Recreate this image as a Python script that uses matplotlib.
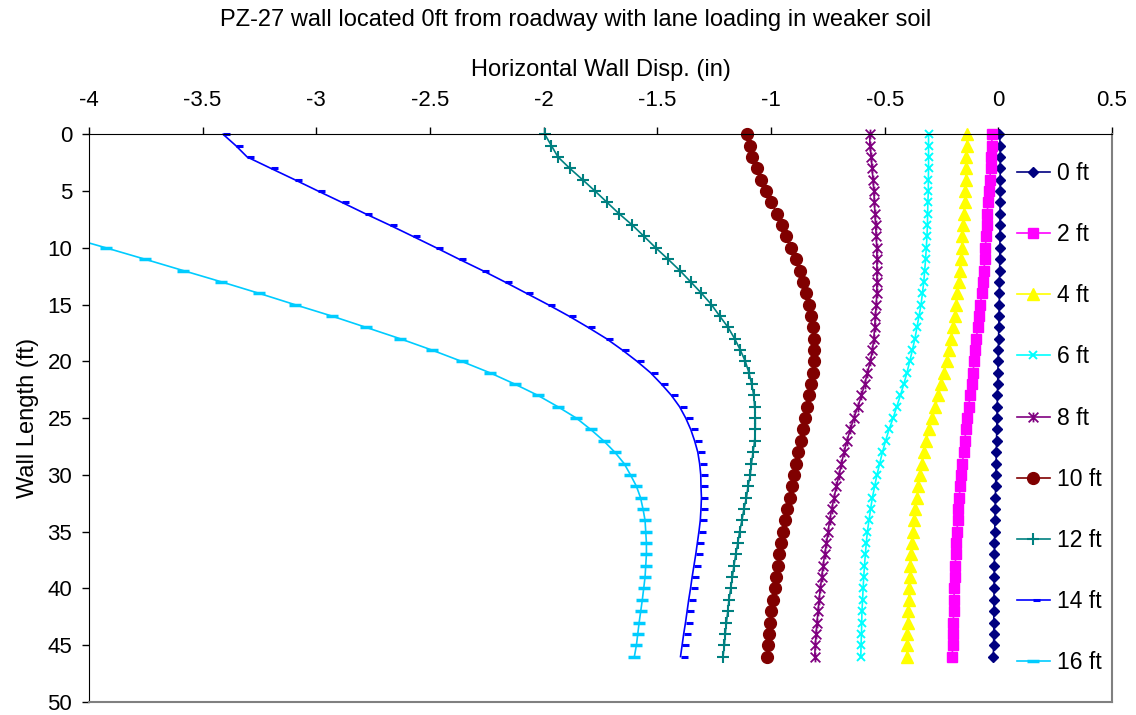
import numpy as np
import matplotlib
matplotlib.use("Agg")
import matplotlib.pyplot as plt
from matplotlib.path import Path

plt.rcParams['font.family'] = ['Liberation Sans', 'DejaVu Sans']

depth = list(range(0, 47))

disp_0 = [0.005, 0.008, 0.008, 0.008, 0.008, 0.008, 0.008, 0.007, 0.007, 0.007,
          0.007, 0.006, 0.006, 0.005, 0.005, 0.004, 0.003, 0.002, 0.001, 0.000,
          -0.001, -0.002, -0.003, -0.004, -0.005, -0.006, -0.007, -0.008, -0.009, -0.010,
          -0.011, -0.012, -0.013, -0.014, -0.015, -0.016, -0.017, -0.017, -0.018, -0.018,
          -0.019, -0.019, -0.020, -0.020, -0.020, -0.021, -0.022]
disp_2 = [-0.028, -0.029, -0.031, -0.034, -0.038, -0.041, -0.046, -0.049, -0.051, -0.054,
          -0.057, -0.060, -0.063, -0.067, -0.073, -0.079, -0.085, -0.091, -0.097, -0.102,
          -0.106, -0.112, -0.117, -0.124, -0.131, -0.138, -0.144, -0.147, -0.153, -0.158,
          -0.163, -0.167, -0.173, -0.176, -0.179, -0.182, -0.185, -0.188, -0.189, -0.192,
          -0.194, -0.195, -0.197, -0.198, -0.200, -0.201, -0.203]
disp_4 = [-0.138, -0.139, -0.141, -0.142, -0.144, -0.147, -0.148, -0.151, -0.154, -0.158,
          -0.161, -0.166, -0.170, -0.175, -0.180, -0.186, -0.192, -0.200, -0.208, -0.217,
          -0.227, -0.239, -0.251, -0.264, -0.277, -0.290, -0.305, -0.317, -0.327, -0.336,
          -0.343, -0.352, -0.358, -0.365, -0.371, -0.375, -0.380, -0.384, -0.387, -0.390,
          -0.393, -0.394, -0.397, -0.399, -0.400, -0.402, -0.403]
disp_6 = [-0.307, -0.307, -0.307, -0.307, -0.308, -0.308, -0.310, -0.311, -0.312, -0.314,
          -0.317, -0.320, -0.324, -0.328, -0.334, -0.340, -0.349, -0.358, -0.367, -0.378,
          -0.390, -0.402, -0.416, -0.431, -0.447, -0.463, -0.481, -0.496, -0.510, -0.522,
          -0.534, -0.544, -0.554, -0.562, -0.569, -0.576, -0.581, -0.585, -0.589, -0.592,
          -0.595, -0.597, -0.600, -0.601, -0.602, -0.604, -0.605]
disp_8 = [-0.566, -0.565, -0.559, -0.556, -0.551, -0.548, -0.545, -0.543, -0.540, -0.537,
          -0.535, -0.534, -0.534, -0.534, -0.535, -0.537, -0.541, -0.544, -0.548, -0.554,
          -0.563, -0.576, -0.588, -0.602, -0.618, -0.636, -0.651, -0.666, -0.679, -0.690,
          -0.701, -0.712, -0.723, -0.733, -0.742, -0.749, -0.756, -0.764, -0.771, -0.777,
          -0.783, -0.789, -0.793, -0.798, -0.802, -0.805, -0.808]
disp_10 = [-1.106, -1.094, -1.084, -1.062, -1.042, -1.020, -0.998, -0.974, -0.953, -0.932,
           -0.913, -0.891, -0.874, -0.859, -0.844, -0.833, -0.822, -0.815, -0.812, -0.811,
           -0.812, -0.815, -0.822, -0.833, -0.840, -0.849, -0.859, -0.869, -0.880, -0.888,
           -0.899, -0.909, -0.918, -0.928, -0.937, -0.947, -0.954, -0.965, -0.969, -0.976,
           -0.984, -0.991, -0.998, -1.003, -1.009, -1.012, -1.016]
disp_12 = [-1.995, -1.966, -1.937, -1.885, -1.829, -1.774, -1.721, -1.668, -1.610, -1.558,
           -1.507, -1.453, -1.401, -1.353, -1.306, -1.262, -1.226, -1.189, -1.160, -1.135,
           -1.113, -1.097, -1.085, -1.076, -1.072, -1.069, -1.069, -1.072, -1.079, -1.086,
           -1.091, -1.101, -1.108, -1.119, -1.128, -1.138, -1.146, -1.155, -1.163, -1.170,
           -1.177, -1.185, -1.190, -1.196, -1.201, -1.205, -1.211]
disp_14 = [-3.410, -3.354, -3.304, -3.200, -3.095, -2.992, -2.887, -2.784, -2.677, -2.574,
           -2.472, -2.372, -2.269, -2.171, -2.076, -1.981, -1.890, -1.805, -1.724, -1.654,
           -1.589, -1.530, -1.482, -1.438, -1.402, -1.375, -1.353, -1.336, -1.322, -1.314,
           -1.309, -1.308, -1.306, -1.308, -1.311, -1.317, -1.324, -1.331, -1.339, -1.347,
           -1.354, -1.362, -1.369, -1.376, -1.384, -1.391, -1.398]
disp_16 = [np.nan, np.nan, np.nan, np.nan, np.nan, np.nan, np.nan, np.nan, np.nan, -4.100,
           -3.925, -3.754, -3.586, -3.417, -3.253, -3.095, -2.933, -2.782, -2.632, -2.492,
           -2.361, -2.237, -2.127, -2.025, -1.937, -1.856, -1.793, -1.736, -1.687, -1.646,
           -1.618, -1.592, -1.574, -1.563, -1.554, -1.551, -1.548, -1.548, -1.551, -1.554,
           -1.560, -1.566, -1.573, -1.580, -1.586, -1.592, -1.601]

labels = ['0 ft', '2 ft', '4 ft', '6 ft', '8 ft', '10 ft', '12 ft', '14 ft', '16 ft']
series = [disp_0, disp_2, disp_4, disp_6, disp_8, disp_10, disp_12, disp_14, disp_16]

# excel style markers
star = Path([(-1, -1), (1, 1), (-1, 1), (1, -1), (0, -1), (0, 1)],
            [Path.MOVETO, Path.LINETO, Path.MOVETO, Path.LINETO, Path.MOVETO, Path.LINETO])
short_bar = Path([(0, 0), (1, 0)], [Path.MOVETO, Path.LINETO])

styles = [
    dict(color='#000080', marker='D', ms=5.5),
    dict(color='#FF00FF', marker='s', ms=7),
    dict(color='#FFFF00', marker='^', ms=8),
    dict(color='#00FFFF', marker='x', ms=6, mew=1.4),
    dict(color='#800080', marker=star, ms=7, mew=1.3),
    dict(color='#800000', marker='o', ms=8.5),
    dict(color='#008080', marker='+', ms=8, mew=1.5),
    dict(color='#0000FF', marker=short_bar, ms=10, mew=2.2),
    dict(color='#00CCFF', marker='_', ms=8, mew=2.5),
]

fig = plt.figure(figsize=(11.36, 7.15), dpi=100)
ax = fig.add_axes([0.0783, 0.0182, 0.9006, 0.7940])

for vals, lab, st in zip(series, labels, styles):
    clip = lab == '16 ft'
    ax.plot(vals, depth, label=lab, lw=1.2, clip_on=clip, **st)

ax.set_xlim(-4, 0.5)
ax.set_ylim(50, 0)
ax.set_xticks(np.arange(-4, 0.51, 0.5))
ax.set_xticklabels(['-4', '-3.5', '-3', '-2.5', '-2', '-1.5', '-1', '-0.5', '0', '0.5'])
ax.set_yticks(range(0, 51, 5))
ax.xaxis.tick_top()
ax.xaxis.set_label_position('top')
ax.tick_params(axis='both', direction='out', length=5, width=1, labelsize=16, pad=7)
ax.tick_params(axis='x', pad=12)

ax.spines['top'].set_color('black')
ax.spines['left'].set_color('black')
ax.spines['right'].set_color('#808080')
ax.spines['bottom'].set_color('#808080')
ax.spines['right'].set_linewidth(1.5)
ax.spines['bottom'].set_linewidth(1.5)

ax.set_xlabel('Horizontal Wall Disp. (in)', fontsize=17, labelpad=10)
ax.set_ylabel('Wall Length (ft)', fontsize=17, labelpad=6)
fig.text(0.507, 0.972, 'PZ-27 wall located 0ft from roadway with lane loading in weaker soil',
         ha='center', va='center', fontsize=17)

ax.legend(loc='center left', bbox_to_anchor=(0.898, 0.5), frameon=False, fontsize=16.5,
          numpoints=1, handlelength=1.44, handletextpad=0.3, labelspacing=1.665,
          borderaxespad=0)

fig.savefig('out.png', dpi=100)
